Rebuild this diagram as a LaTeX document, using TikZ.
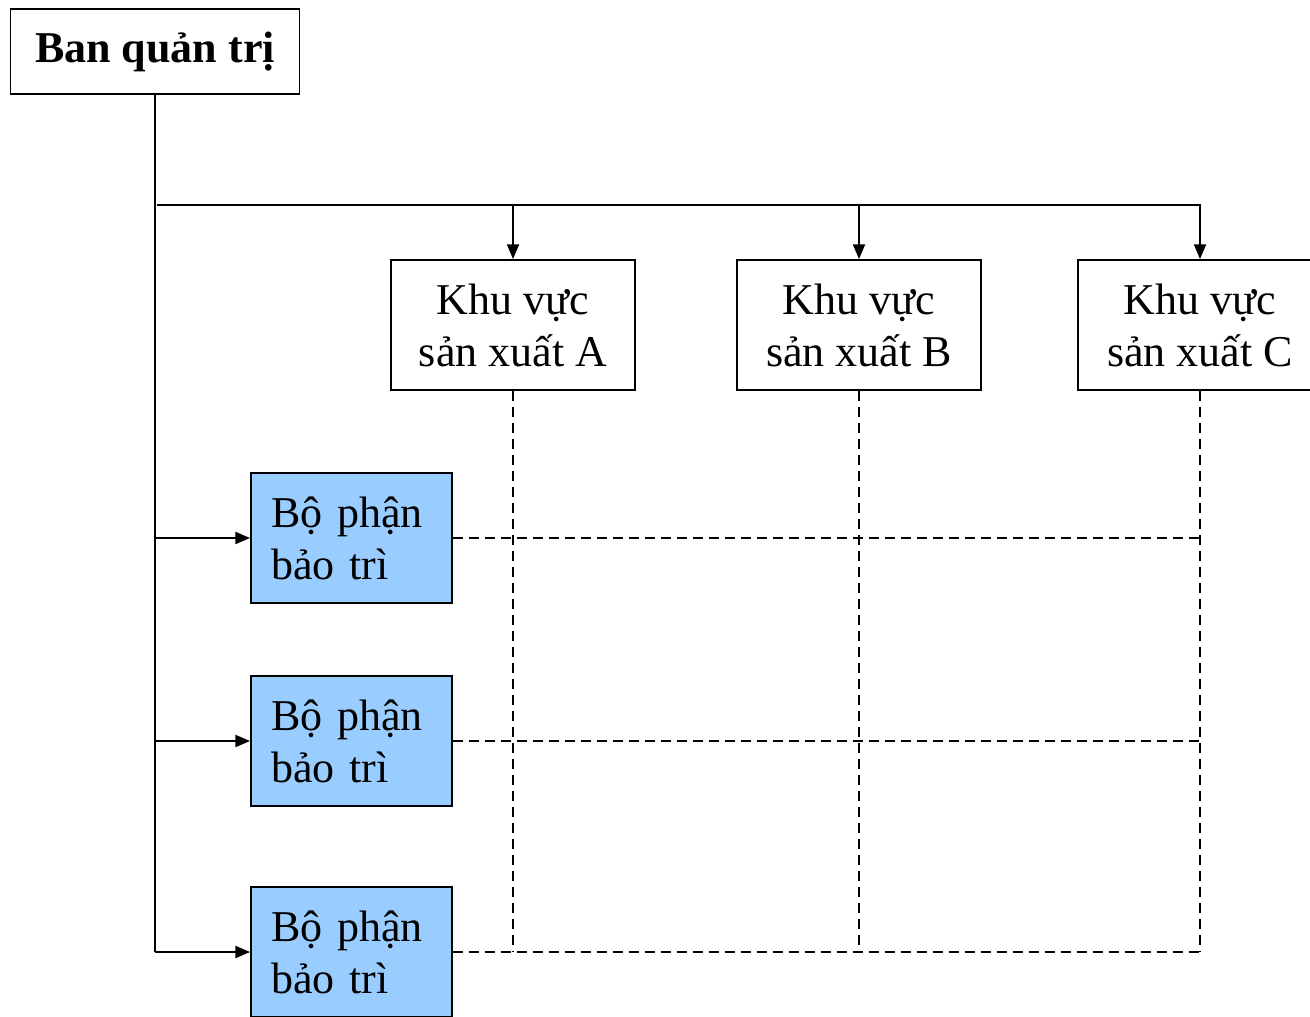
\documentclass[tikz,border=0pt]{standalone}
\usepackage{fontspec}
\setmainfont{Liberation Serif}
\usetikzlibrary{arrows.meta}

\definecolor{blueBP}{HTML}{99CCFF}
\tikzset{
    hop/.style={draw, line width=1.4pt, inner sep=0pt, minimum width=183pt, minimum height=97.5pt, align=center, font=\fontsize{33}{39}\selectfont},
    bophan/.style={draw, line width=1.4pt, fill=blueBP, inner sep=0pt, minimum width=150.75pt, minimum height=97.5pt, text width=120.75pt, align=left, font=\fontsize{33}{39}\selectfont},
    muiten/.style={line width=1.4pt, -{Triangle[length=11pt,width=9pt]}},
    netdut/.style={line width=1.4pt, dash pattern=on 7.5pt off 4.5pt}
}

\begin{document}
\begin{tikzpicture}[x=0.75pt, y=-0.75pt]
            \useasboundingbox (0,0) rectangle (1310,1017);
            \clip (0,0) rectangle (1310,1017);

            % Ban quan tri
            \node[draw, line width=1.4pt, minimum width=216.75pt, minimum height=63.75pt, inner sep=0pt, font=\fontsize{33}{39}\selectfont\bfseries] (ban) at (155,51.5) {Ban quản trị};

            % Khu vuc san xuat
            \node[hop] (kvA) at (513,325) {Khu vực\\sản xuất A};
            \node[hop] (kvB) at (859,325) {Khu vực\\sản xuất B};
            \node[hop] (kvC) at (1200,325) {Khu vực\\sản xuất C};

            % Bo phan bao tri
            \foreach \i/\y in {1/538,2/741,3/952} {
                    \node[bophan] (bp\i) at (351.5,\y) {Bộ phận\\bảo trì};
                }

            % Duong noi
            \coordinate (bus) at (157,205);
            \draw[line width=1.4pt] (ban.south) -- (ban.south |- bp3.west);
            \draw[muiten] (bus) -| (kvC.north);
            \foreach \k in {A,B} {
                    \draw[muiten] (kv\k.north |- bus) -- (kv\k.north);
                }
            \foreach \i in {1,2,3} {
                    \draw[muiten] (ban.south |- bp\i.west) -- (bp\i.west);
                }

            % Luoi net dut
            \foreach \i in {1,2,3} {
                    \draw[netdut] (bp\i.east) -- (kvC.south |- bp\i.east);
                }
            \foreach \k in {A,B,C} {
                    \draw[netdut] (kv\k.south) -- (kv\k.south |- bp3.east);
                }
        \end{tikzpicture}
\end{document}
